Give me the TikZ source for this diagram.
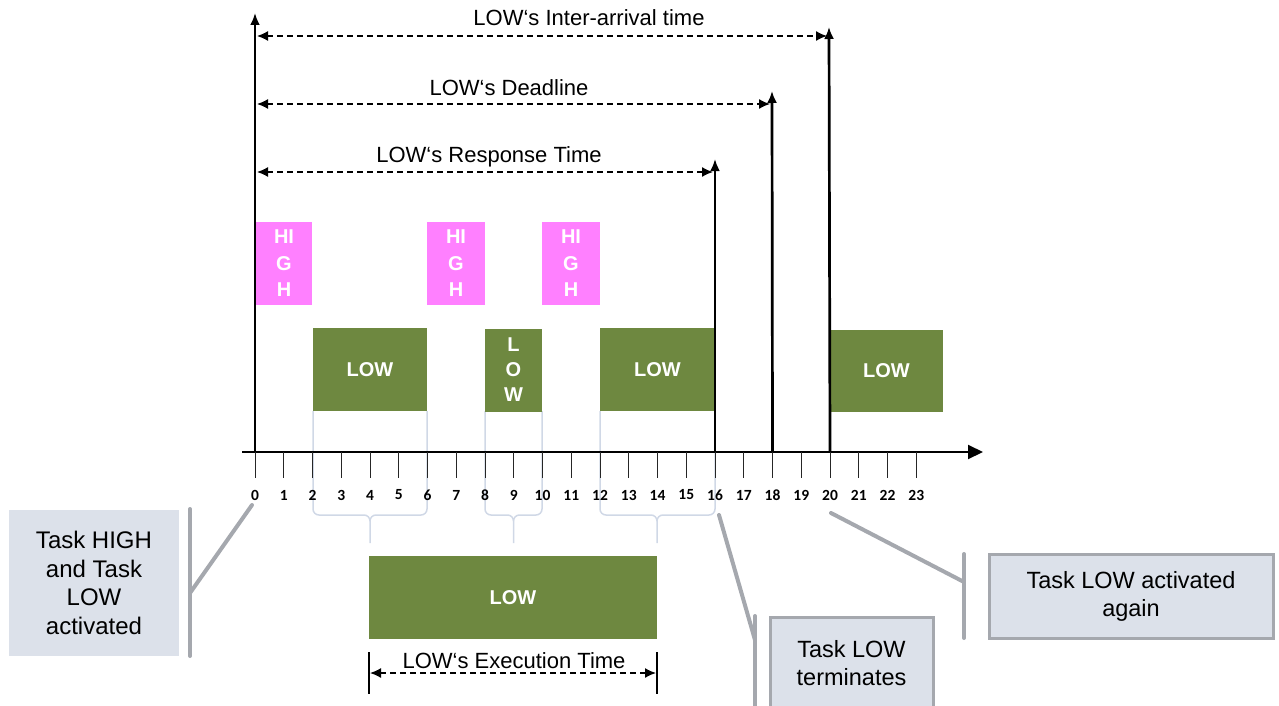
\documentclass[tikz,border=0pt]{standalone}
\usepackage{fontspec}
\setmainfont{Liberation Sans}
\newfontfamily\tickfont{Carlito}
\usetikzlibrary{arrows.meta}
\definecolor{lowgreen}{RGB}{110,136,64}
\definecolor{highpink}{RGB}{255,128,255}
\definecolor{callfill}{RGB}{220,225,234}
\definecolor{callgray}{RGB}{165,168,174}
\definecolor{guidecol}{RGB}{208,216,230}
\begin{document}
\begin{tikzpicture}[x=1pt,y=-1pt,
  axisline/.style={line width=2pt,-{Triangle[length=15pt,width=14pt]}},
  tickline/.style={line width=1pt,black!85},
  ticklbl/.style={font=\tickfont\bfseries\fontsize{15.5}{16}\selectfont,inner sep=0pt},
  varrow/.style={line width=2.7pt,-{Latex[length=12pt,width=10pt]}},
  darrow/.style={line width=1.4pt,dash pattern=on 6pt off 4pt,{Latex[length=11pt,width=10pt]}-{Latex[length=11pt,width=10pt]}},
  lbl/.style={font=\fontsize{22}{26}\selectfont,inner sep=0pt},
  highbox/.style={fill=highpink,inner sep=0pt,minimum height=83pt,align=center,text=white,font=\bfseries\fontsize{20}{26.5}\selectfont},
  lowbox/.style={fill=lowgreen,inner sep=0pt,minimum height=83pt,align=center,text=white,font=\bfseries\fontsize{20}{25}\selectfont},
  guide/.style={line width=1.5pt,guidecol},
  callbox/.style={fill=callfill,draw=callgray,line width=3pt,inner sep=0pt,align=center,font=\fontsize{23.5}{28}\selectfont},
  callplain/.style={fill=callfill,inner sep=0pt,align=center,font=\fontsize{24}{28.5}\selectfont},
  callbar/.style={line width=4pt,callgray,line cap=round},
  execbar/.style={line width=1.5pt,black}
]
\useasboundingbox (0,0) rectangle (1279,706);

% guide lines and braces
\foreach \a/\m/\b in {313/370/427, 485/513.5/542, 600/657/715} {
  \draw[guide] (\a,411) -- (\a,509) to[out=-90,in=180] (\a+6,515) -- (\m-6,515) to[out=0,in=90] (\m,521) -- (\m,543);
  \draw[guide] (\b,411) -- (\b,509) to[out=-90,in=0] (\b-6,515) -- (\m+6,515) to[out=180,in=90] (\m,521);
}

% task boxes
\node[highbox,minimum width=56pt] (h1) at (284,263.5) {HI\\G\\H};
\node[highbox,minimum width=58pt] (h2) at (456,263.5) {HI\\G\\H};
\node[highbox,minimum width=58pt] (h3) at (571,263.5) {HI\\G\\H};
\node[lowbox,minimum width=114pt] (l1) at (370,369.5) {LOW};
\node[lowbox,minimum width=57pt] (l2) at (513.5,370) {L\\O\\W};
\node[lowbox,minimum width=115pt] (l3) at (657.5,369.5) {LOW};
\node[lowbox,minimum width=113pt,minimum height=82pt] (l4) at (886.5,371) {LOW};
\node[lowbox,minimum width=288pt] (lexec) at (513,597.5) {LOW};

% axis
\coordinate (axs) at (242,452);
\coordinate (axe) at (983,452);
\draw[axisline] (axs) -- (axe);
\foreach \t in {0,...,23} {
  \coordinate (t\t) at ({255+28.75*\t},452);
  \draw[tickline] (t\t) -- ++(0,26);
  \node[ticklbl] (n\t) at ({255+28.75*\t},495) {\t};
}

% vertical arrows
\coordinate (top0) at (255,13);
\coordinate (top16) at (715,159);
\coordinate (top18) at (772,91);
\coordinate (top20) at (829,27);
\draw[varrow] (t0) -- (top0);
\draw[varrow] (t16) -- (top16);
\draw[varrow] (t18) -- (top18);
\draw[varrow] (t20) -- (top20);

% dashed intervals
\coordinate (ial) at (257,36);  \coordinate (iar) at (827,36);
\coordinate (dll) at (257,104); \coordinate (dlr) at (770,104);
\coordinate (rtl) at (257,172); \coordinate (rtr) at (713,172);
\draw[darrow] (ial) -- (iar);
\draw[darrow] (dll) -- (dlr);
\draw[darrow] (rtl) -- (rtr);
\node[lbl] (lia) at (589,18) {LOW‘s Inter-arrival time};
\node[lbl] (ldl) at (509,88) {LOW‘s Deadline};
\node[lbl] (lrt) at (489,157) {LOW‘s Response Time};

% execution time
\coordinate (exlt) at (369,652); \coordinate (exlb) at (369,694);
\coordinate (exrt) at (657,652); \coordinate (exrb) at (657,694);
\coordinate (exl) at (370,673);  \coordinate (exr) at (656,673);
\draw[execbar] (exlt) -- (exlb);
\draw[execbar] (exrt) -- (exrb);
\draw[darrow] (exl) -- (exr);
\node[lbl] (lex) at (514,661) {LOW‘s Execution Time};

% callouts
\node[callplain,minimum width=170pt,minimum height=146pt] (c1) at (94,583) {Task HIGH\\and Task\\LOW\\activated};
\coordinate (c1bt) at (190,509); \coordinate (c1bb) at (190,656);
\coordinate (c1j) at (190,593);  \coordinate (c1p) at (252,505);
\draw[callbar] (c1bt) -- (c1bb);
\draw[callbar] (c1j) -- (c1p);

\node[callbox,minimum width=163pt,minimum height=92pt] (c2) at (851.5,663) {Task LOW\\terminates};
\coordinate (c2bt) at (755,616); \coordinate (c2bb) at (755,712);
\coordinate (c2j) at (755,640);  \coordinate (c2p) at (719,515);
\draw[callbar] (c2bt) -- (c2bb);
\draw[callbar] (c2j) -- (c2p);

\node[callbox,minimum width=284pt,minimum height=84pt] (c3) at (1131,596) {Task LOW activated\\again};
\coordinate (c3bt) at (964,554); \coordinate (c3bb) at (964,638);
\coordinate (c3j) at (964,582);  \coordinate (c3p) at (831,513);
\draw[callbar] (c3bt) -- (c3bb);
\draw[callbar] (c3j) -- (c3p);
\end{tikzpicture}
\end{document}
